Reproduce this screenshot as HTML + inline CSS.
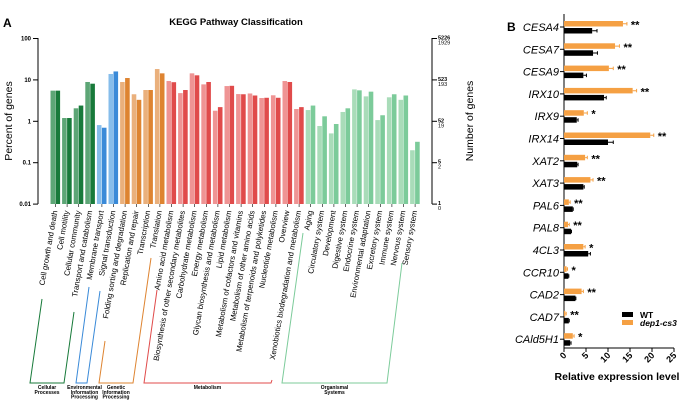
<!DOCTYPE html>
<html><head><meta charset="utf-8"><style>
html,body{margin:0;padding:0;background:#fff;}
svg{display:block;font-family:"Liberation Sans",Arial,sans-serif;}
</style></head><body>
<svg id="c" width="685" height="402" viewBox="0 0 685 402">
<rect width="685" height="402" fill="#fff"/>
<text x="3" y="27" font-size="12" font-weight="bold">A</text>
<text x="236" y="25" font-size="9.5" font-weight="bold" text-anchor="middle">KEGG Pathway Classification</text>
<text transform="translate(12,121) rotate(-90)" font-size="10.5" text-anchor="middle">Percent of genes</text>
<text transform="translate(473,121) rotate(-90)" font-size="10.5" text-anchor="middle">Number of genes</text>
<text x="507" y="31" font-size="12" font-weight="bold">B</text>
<text x="617" y="380" font-size="10.5" font-weight="bold" text-anchor="middle">Relative expression level</text>
<g id="ga"></g><g id="gb"></g>
</svg>
<script>
const NS="http://www.w3.org/2000/svg";
function mk(p,t,a,txt){const e=document.createElementNS(NS,t);for(const k in a)e.setAttribute(k,a[k]);if(txt!=null)e.textContent=txt;p.appendChild(e);return e;}
// ---- Panel A data ----
const categories=["Cell growth and death","Cell motility","Cellular community","Transport and catabolism","Membrane transport","Signal transduction","Folding sorting and degradation","Replication and repair","Transcription","Translation","Amino acid metabolism","Biosynthesis of other secondary metabolites","Carbohydrate metabolism","Energy metabolism","Glycan biosynthesis and metabolism","Lipid metabolism","Metabolism of cofactors and vitamins","Metabolism of other amino acids","Metabolism of terpenoids and polyketides","Nucleotide metabolism","Overview","Xenobiotics biodegradation and metabolism","Aging","Circulatory system","Development","Digestive system","Endocrine system","Environmental adaptation","Excretory system","Immune system","Nervous system","Sensory system"];
const groupOf=[0,0,0,0,1,1,2,2,2,2,3,3,3,3,3,3,3,3,3,3,3,3,4,4,4,4,4,4,4,4,4,4];
const seriesA=[5.5,1.2,2.06,8.9,0.81,13.9,8.9,4.5,5.7,18.3,9.4,4.8,14.4,7.8,1.8,7.1,4.55,4.7,3.65,4.25,9.4,1.98,1.87,0.77,0.51,1.68,5.9,4.0,1.07,3.8,3.3,0.2];
const seriesB=[5.5,1.2,2.4,8.1,0.7,16,11.1,3.3,5.7,14.4,8.8,5.7,12.9,8.9,2.2,7.2,4.5,4.2,3.7,3.7,8.9,2.2,2.4,1.32,0.86,2.06,5.6,5.2,1.4,4.5,4.2,0.32];
const leftTicks=["100","10","1","0.1","0.01"];
const rightTicksTop=["5226","523","52","5","1"];
const rightTicksBot=["1929","193","19","2","0"];
const groupNames=[["Cellular","Processes"],["Environmental","Information","Processing"],["Genetic","Information","Processing"],["Metabolism"],["Organismal","Systems"]];
const colA=[["#5da676","#187a3a"],["#86bdeb","#3a8ad8"],["#eab07c","#de8431"],["#ef9494","#e04b4b"],["#a9dcb9","#7ccb9a"]];
const ga=document.getElementById('ga');
const yA=v=>121.3-41.4*Math.log10(v);
const xA=i=>55.5+i*11.6;
let e=mk(ga,'line',{x1:38,y1:38,x2:38,y2:204,stroke:'#000','stroke-width':1});

e=mk(ga,'line',{x1:432,y1:38,x2:432,y2:204,stroke:'#000','stroke-width':1});

leftTicks.forEach((t,i)=>{const y=yA(+t);
 e=mk(ga,'line',{x1:33,y1:y,x2:38,y2:y,stroke:'#000'});
 e=mk(ga,'text',{x:31,y:y+2,'font-size':6,'text-anchor':'end','font-weight':'bold'},t);
 e=mk(ga,'line',{x1:432,y1:y,x2:437,y2:y,stroke:'#000'});
 e=mk(ga,'text',{x:438,y:y+1,'font-size':5.5,'font-weight':'bold'},rightTicksTop[i]);
 e=mk(ga,'text',{x:438,y:y+6,'font-size':5.5},rightTicksBot[i]);
});
categories.forEach((c,i)=>{const g=groupOf[i],x=xA(i);
 [seriesA[i],seriesB[i]].forEach((v,j)=>{const y=yA(v);
  e=mk(ga,'rect',{x:x-5+j*5,y:y,width:4.6,height:204-y,fill:colA[g][j]});
  });
 e=mk(ga,'line',{x1:x,y1:204,x2:x,y2:207,stroke:'#000','stroke-width':0.6});
 e=mk(ga,'text',{transform:`translate(${x+2},211) rotate(-80)`,'font-size':7.8,'text-anchor':'end'},c);
 
});
const br=[[30,42,299,64,74,312],[76,89,287,87,100,291],[99,105,341,133,151,258],[144,157,290,271,272,380],[282,303,233,387,402,263]];
const brCol=["#187a3a","#3a8ad8","#de8431","#e04b4b","#7ccb9a"];
br.forEach((b,i)=>{e=mk(ga,'path',{d:`M${b[1]},${b[2]} L${b[0]},383 L${b[3]},383 L${b[4]},${b[5]}`,fill:'none',stroke:brCol[i],'stroke-width':1});
 
 const cx=(b[0]+b[3])/2+(i==1?3:0);
 groupNames[i].forEach((s,k)=>{e=mk(ga,'text',{x:cx,y:389+k*4.8,'font-size':5,'font-weight':'bold','text-anchor':'middle'},s);
  });
});
// ---- Panel B data ----
const genes=["CESA4","CESA7","CESA9","IRX10","IRX9","IRX14","XAT2","XAT3","PAL6","PAL8","4CL3","CCR10","CAD2","CAD7","CAld5H1"];
const mutant=[13.4,11.6,10.2,15.6,4.5,19.6,4.8,6.0,1.1,0.9,4.4,0.6,4.0,0.3,2.0];
const mutantErr=[0.9,1.0,1.0,0.9,0.8,0.8,0.5,0.6,0.3,0.3,0.4,0.2,0.4,0.2,0.3];
const wt=[6.4,6.6,4.4,9.1,2.9,10.0,3.0,4.4,2.0,1.6,5.5,1.0,2.6,1.1,1.4];
const wtErr=[1.1,1.0,0.7,0.5,0.3,1.2,0.2,0.2,0.1,0.1,0.5,0.1,0.1,0.1,0.2];
const stars=["**","**","**","**","*","**","**","**","**","**","*","*","**","**","*"];
const xTicksB=[0,5,10,15,20,25];
const gb=document.getElementById('gb');
const xB=v=>564+v*4.4;
const yB=i=>27+i*22.3;
e=mk(gb,'line',{x1:564,y1:14,x2:564,y2:348,stroke:'#000','stroke-width':1});
e=mk(gb,'line',{x1:564,y1:348,x2:674,y2:348,stroke:'#000','stroke-width':1});
xTicksB.forEach(t=>{const x=xB(t);
 e=mk(gb,'line',{x1:x,y1:348,x2:x,y2:352,stroke:'#000'});
 e=mk(gb,'text',{transform:`translate(${x+3},356) rotate(-45)`,'font-size':9,'font-weight':'bold','text-anchor':'end'},String(t));
 });
genes.forEach((g,i)=>{const y=yB(i);
 e=mk(gb,'line',{x1:560,y1:y,x2:564,y2:y,stroke:'#000'});
 e=mk(gb,'text',{x:559,y:y+4,'font-size':11,'font-style':'italic','text-anchor':'end'},g);
 e=mk(gb,'rect',{x:564,y:y-6,width:xB(mutant[i])-564,height:5.5,fill:'#f5a043'});
 e=mk(gb,'path',{d:`M${xB(mutant[i])},${y-3.2}H${xB(mutant[i]+mutantErr[i])}M${xB(mutant[i]+mutantErr[i])},${y-5}V${y-1.5}`,stroke:'#f5a043','stroke-width':1});
 e=mk(gb,'rect',{x:564,y:y+1,width:xB(wt[i])-564,height:5.5,fill:'#000'});
 e=mk(gb,'path',{d:`M${xB(wt[i])},${y+3.7}H${xB(wt[i]+wtErr[i])}M${xB(wt[i]+wtErr[i])},${y+2}V${y+5.5}`,stroke:'#000','stroke-width':1});
 e=mk(gb,'text',{x:xB(mutant[i]+mutantErr[i])+4,y:y+1.5,'font-size':11,'font-weight':'bold'},stars[i]);
});
e=mk(gb,'rect',{x:622,y:312,width:11,height:5,fill:'#000'});
e=mk(gb,'text',{x:640,y:318,'font-size':8.5,'font-weight':'bold'},'WT');
e=mk(gb,'rect',{x:622,y:320,width:11,height:5,fill:'#f5a043'});
e=mk(gb,'text',{x:640,y:326,'font-size':8.5,'font-weight':'bold','font-style':'italic'},'dep1-cs3');
</script>
</body></html>
